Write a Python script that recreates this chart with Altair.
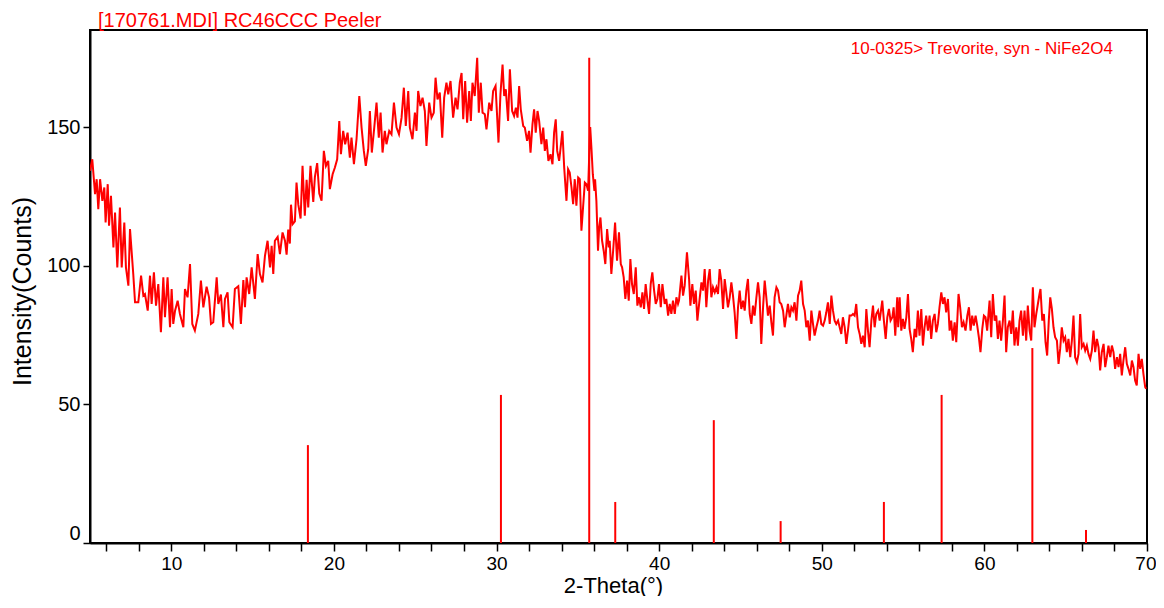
import altair as alt
import pandas as pd

two_theta = [
    5.00, 5.14, 5.31, 5.41, 5.51, 5.62, 5.76, 5.88, 5.96, 6.09, 6.17, 6.29, 6.44, 6.54, 6.68, 6.84, 6.95,
    7.11, 7.21, 7.36, 7.46, 7.66, 7.77, 7.97, 8.14, 8.28, 8.38, 8.55, 8.69, 8.79, 8.93, 9.06, 9.20, 9.36,
    9.51, 9.61, 9.77, 9.92, 10.02, 10.12, 10.23, 10.39, 10.53, 10.74, 10.84, 11.00, 11.15, 11.29, 11.45,
    11.66, 11.82, 11.97, 12.17, 12.32, 12.44, 12.58, 12.79, 12.89, 13.05, 13.20, 13.30, 13.46, 13.57,
    13.77, 13.91, 14.12, 14.28, 14.43, 14.53, 14.63, 14.79, 14.94, 15.14, 15.31, 15.45, 15.61, 15.76,
    15.92, 16.07, 16.17, 16.27, 16.37, 16.54,
    16.68, 16.84, 16.99, 17.09, 17.19, 17.29, 17.36, 17.46, 17.60, 17.70, 17.81, 17.95, 18.07, 18.21,
    18.32, 18.42, 18.56, 18.73, 18.83, 18.97, 19.10, 19.24, 19.38, 19.51, 19.65, 19.75, 19.92, 20.06,
    20.20, 20.33, 20.43, 20.57, 20.69, 20.84, 20.98, 21.08, 21.23, 21.39, 21.56, 21.70, 21.84, 21.96,
    22.11, 22.21, 22.33, 22.48, 22.62, 22.76, 22.87, 22.99, 23.13, 23.23, 23.40, 23.54, 23.69, 23.85,
    24.00, 24.16, 24.30, 24.42, 24.57, 24.67, 24.83, 24.98, 25.08, 25.18, 25.32, 25.45, 25.59, 25.69,
    25.86, 26.00, 26.14, 26.25, 26.37, 26.51, 26.66, 26.78, 26.92, 27.03, 27.17, 27.33, 27.48, 27.60,
    27.74, 27.85, 27.95, 28.07, 28.19, 28.32, 28.42, 28.52, 28.66, 28.81, 28.91, 29.03, 29.14, 29.28,
    29.38, 29.55, 29.69, 29.79, 29.94, 30.04, 30.12, 30.24, 30.37, 30.47, 30.57, 30.71, 30.82, 30.96,
    31.08, 31.19, 31.29, 31.39, 31.49, 31.64, 31.74, 31.88, 32.00, 32.09, 32.21, 32.31, 32.41, 32.52,
    32.62, 32.76, 32.87, 32.97, 33.07, 33.19, 33.32, 33.44, 33.54, 33.64, 33.73, 33.85, 33.93, 34.05,
    34.16, 34.30, 34.40, 34.50, 34.61, 34.71, 34.81, 34.91, 35.02, 35.12, 35.22, 35.32, 35.43, 35.53,
    35.63, 35.70, 35.76, 35.84, 35.92,
    36.02, 36.06, 36.14, 36.24, 36.31, 36.39, 36.49, 36.59, 36.69, 36.80, 36.90, 36.96, 37.06, 37.17,
    37.29, 37.41, 37.53, 37.64, 37.72, 37.82, 37.92, 38.03, 38.13, 38.23, 38.33, 38.44, 38.56, 38.66,
    38.76, 38.87, 38.97, 39.07, 39.17, 39.28, 39.38, 39.48, 39.58, 39.69, 39.79, 39.89, 39.99, 40.10,
    40.20, 40.34, 40.44, 40.55, 40.65, 40.75, 40.85, 40.96, 41.06, 41.16,
    41.22, 41.37, 41.47, 41.57, 41.71, 41.84, 41.92, 42.04, 42.14, 42.25, 42.35, 42.49, 42.60, 42.70,
    42.80, 42.90, 43.01, 43.11, 43.21, 43.31, 43.42, 43.52, 43.62, 43.72, 43.82, 43.93, 44.03, 44.13,
    44.23, 44.34, 44.44, 44.54, 44.64, 44.75, 44.85, 44.95, 45.05, 45.16, 45.26, 45.36, 45.46, 45.57,
    45.67, 45.77, 45.87, 45.98, 46.08, 46.18, 46.28, 46.39, 46.49, 46.59, 46.69, 46.80, 46.90, 47.00,
    47.10, 47.21, 47.31, 47.41, 47.51, 47.62, 47.72, 47.82, 47.92, 48.03, 48.13, 48.23, 48.33, 48.44,
    48.54, 48.64, 48.74, 48.85, 48.95, 49.05, 49.15, 49.26, 49.36, 49.46, 49.56, 49.67, 49.77, 49.87,
    49.97, 50.08, 50.18, 50.28, 50.38, 50.49, 50.59, 50.69, 50.79, 50.89, 51.00, 51.10, 51.20, 51.30,
    51.41, 51.51, 51.61, 51.71, 51.82, 51.92, 52.02, 52.12, 52.23, 52.33, 52.43, 52.53, 52.64, 52.74,
    52.84, 52.94, 53.05, 53.15, 53.25, 53.35, 53.46, 53.56, 53.72, 53.82, 53.93, 54.03, 54.13, 54.23,
    54.34, 54.42, 54.52, 54.64,
    54.70, 54.79, 54.89, 54.99, 55.09, 55.20, 55.30, 55.40, 55.50, 55.60, 55.71, 55.81, 55.91, 56.01,
    56.12, 56.22, 56.32, 56.42, 56.53, 56.63, 56.73, 56.83, 56.94, 57.04, 57.14, 57.24, 57.35, 57.45,
    57.55, 57.65, 57.76, 57.86, 57.96, 58.06, 58.17, 58.27, 58.41, 58.51, 58.62, 58.72, 58.84, 58.95,
    59.05, 59.15, 59.25, 59.35, 59.46, 59.56, 59.66, 59.76, 59.87, 59.97, 60.07, 60.17, 60.32, 60.42,
    60.52, 60.63, 60.73, 60.83, 60.93, 61.03, 61.14, 61.24, 61.34, 61.44, 61.55, 61.65, 61.75, 61.85,
    61.96, 62.06, 62.16, 62.26, 62.37, 62.47, 62.57, 62.67, 62.78, 62.88, 62.98, 63.08, 63.19, 63.29,
    63.39, 63.45, 63.56, 63.66, 63.76, 63.86, 63.96, 64.05, 64.15, 64.25, 64.35, 64.46, 64.56, 64.66,
    64.76, 64.87, 64.97, 65.07, 65.17, 65.28, 65.38, 65.48, 65.58, 65.69, 65.79, 65.89, 65.99, 66.10,
    66.20, 66.30, 66.40, 66.51, 66.61, 66.71, 66.81, 66.92, 67.02, 67.12, 67.22, 67.33, 67.43, 67.53,
    67.63, 67.74, 67.84, 67.94, 68.04, 68.15, 68.25, 68.35, 68.45, 68.55, 68.66, 68.76, 68.86, 68.97,
    69.07, 69.17, 69.27, 69.37, 69.48, 69.58, 69.68, 69.78, 69.89, 69.95,
]

counts = [
    134.2, 138.4, 125.8, 131.2, 120.4, 131.2, 123.4, 128.2, 115.6, 129.4, 114.4, 125.2, 106.6, 119.2, 99.4, 121.0, 99.4,
    115.6, 99.4, 92.8, 113.2, 97.0, 86.8, 86.8, 96.4, 89.2, 89.8, 83.8, 96.4, 86.2, 97.6, 85.6, 93.4, 76.0,
    95.8, 81.4, 95.8, 77.8, 91.6, 79.0, 83.8, 87.4, 82.6, 77.8, 91.6, 88.6, 100.6, 79.0, 76.6,
    82.6, 94.6, 85.0, 92.4, 88.6, 79.0, 79.6, 95.8, 86.2, 89.6, 77.8, 88.0, 90.4, 79.6,
    77.8, 91.6, 92.6, 79.0, 94.8, 85.0, 95.8, 89.8, 99.4, 88.0, 104.2, 97.0, 94.0, 103.6,
    109.0, 99.4, 107.2, 97.0, 109.0, 110.4,
    104.2, 112.0, 109.0, 104.0, 113.0, 108.0, 122.0, 115.0, 116.0, 130.0, 122.0, 117.0, 136.0, 118.0,
    131.0, 121.0, 136.0, 123.0, 132.0, 137.0, 126.0, 123.4, 141.4, 136.0, 137.8, 127.6, 133.0, 135.4,
    138.4, 152.2, 140.2, 148.6, 143.8, 148.0, 139.0, 146.2, 136.6, 145.6, 161.2, 149.8, 141.4, 136.0,
    142.0, 155.8, 140.8, 149.8, 158.8, 146.2, 155.2, 140.8, 148.6, 143.8, 148.6, 147.4, 158.8, 149.8,
    147.4, 153.4, 164.2, 150.4, 163.0, 149.8, 145.6, 155.2, 148.6, 163.0, 157.6, 160.6, 155.8, 143.2,
    158.8, 153.4, 155.2, 167.8, 160.0, 162.4, 146.2, 160.6, 166.0, 161.8, 166.6, 153.4, 160.6, 156.4,
    166.0, 169.5, 152.8, 166.6, 151.6, 163.0, 152.2, 166.0, 161.2, 175.0, 155.2, 166.0, 155.2, 154.6,
    149.2, 158.8, 155.8, 163.0, 164.8, 153.4, 144.4, 161.8, 172.5, 161.2, 163.6, 152.2, 170.8, 155.8,
    154.0, 157.0, 153.4, 164.8, 156.4, 150.4, 149.8, 145.0, 148.6, 140.8, 151.0, 156.4, 148.0, 155.8,
    152.2, 143.8, 149.8, 141.4, 145.6, 137.8, 140.2, 136.6, 148.0, 152.8, 141.4, 137.8, 142.0, 148.6,
    135.4, 123.4, 134.8, 133.6, 128.2, 122.2, 131.2, 121.6, 131.8, 131.2, 112.6, 121.0, 130.0, 129.4,
    127.0, 140.0, 150.0, 142.0, 133.0,
    127.0, 131.2, 123.4, 105.4, 113.8, 117.4, 109.0, 105.4, 100.6, 113.2, 106.6, 109.0, 97.0, 105.4,
    115.6, 101.8, 112.0, 100.6, 99.4, 95.8, 88.0, 94.6, 87.4, 102.4, 93.4, 89.8, 99.4, 85.6,
    88.6, 85.0, 90.4, 84.4, 93.4, 87.4, 82.6, 93.4, 97.6, 91.0, 86.2, 88.0, 93.4, 85.0,
    93.4, 86.2, 88.0, 82.0, 86.2, 82.6, 87.4, 82.6, 88.6, 86.2,
    87.4, 96.4, 89.2, 92.8, 104.8, 95.2, 85.6, 93.4, 86.2, 91.0, 80.2, 88.0, 94.0, 91.0,
    98.8, 85.0, 94.6, 98.8, 88.6, 92.2, 90.4, 92.2, 89.8, 98.8, 94.6, 84.4, 95.2, 90.4,
    85.0, 88.6, 94.0, 89.2, 83.2, 73.6, 85.0, 91.0, 84.4, 87.4, 83.8, 91.0, 95.2, 82.6,
    79.0, 85.6, 82.0, 88.6, 94.0, 88.6, 71.8, 85.0, 94.6, 88.6, 82.0, 85.6, 79.6, 74.8,
    88.6, 92.2, 91.0, 86.8, 86.2, 83.8, 77.8, 82.0, 86.2, 81.4, 85.0, 83.8, 86.8, 80.2,
    89.2, 91.0, 94.6, 86.2, 83.8, 77.8, 80.2, 73.0, 83.8, 79.0, 74.8, 77.8, 80.2, 83.8,
    79.0, 78.4, 80.2, 83.2, 86.8, 79.0, 89.2, 83.8, 80.2, 79.0, 80.2, 77.8, 75.4, 81.4,
    77.8, 71.8, 76.6, 82.0, 82.0, 82.6, 82.0, 86.2, 77.8, 75.4, 71.8, 74.8, 70.6, 84.4,
    76.6, 70.6, 80.2, 85.6, 77.8, 82.6, 83.8, 80.2, 87.4, 80.2, 73.6, 81.4, 84.4, 80.2,
    81.4, 85.0, 74.8, 88.6,
    77.8, 88.6, 76.6, 80.8, 77.2, 81.4, 89.8, 77.2, 73.6, 68.8, 77.2, 74.2, 83.8, 74.8,
    84.4, 71.2, 77.8, 82.0, 76.6, 82.0, 73.6, 80.2, 82.6, 76.0, 79.0, 85.0, 90.4, 86.2,
    88.6, 83.2, 88.0, 76.6, 80.2, 73.0, 79.6, 72.4, 89.8, 85.0, 77.8, 79.6, 76.6, 82.0,
    85.0, 76.6, 82.0, 78.4, 82.0, 78.4, 74.2, 68.8, 77.2, 82.0, 81.4, 76.6, 87.4, 74.2,
    89.8, 80.2, 82.0, 73.6, 80.2, 73.0, 80.2, 89.2, 68.8, 77.8, 80.2, 75.4, 83.8, 71.2,
    77.8, 71.2, 80.2, 83.8, 74.8, 83.8, 73.0, 85.6, 76.6, 73.0, 92.2, 77.8, 82.6, 86.2,
    89.8, 91.6, 80.2, 82.6, 72.4, 67.6, 80.2, 88.6, 84.4, 77.8, 74.2, 73.0, 64.6, 70.0,
    77.8, 73.0, 74.2, 68.8, 73.6, 67.0, 73.0, 82.0, 67.0, 65.2, 68.2, 82.6, 70.6, 71.8,
    69.4, 71.2, 68.2, 66.4, 69.4, 76.6, 68.8, 73.6, 70.6, 62.2, 68.8, 71.8, 63.4, 67.0,
    71.2, 67.0, 71.2, 68.8, 62.8, 67.0, 63.4, 68.2, 60.4, 65.8, 70.6, 64.6, 62.8, 60.4,
    65.8, 63.4, 58.6, 56.8, 68.2, 62.8, 66.4, 61.0, 56.2, 55.6,
]

# ---- reference pattern 10-0325 Trevorite, syn - NiFe2O4 (stick lines) ----
ref_two_theta = [18.40, 30.27, 35.70, 37.30, 43.36, 47.47, 53.82, 57.37, 62.95, 66.25]
ref_height = [35.3, 53.4, 175.0, 14.8, 44.3, 7.9, 14.8, 53.4, 70.3, 4.7]

x_tick_values = [6, 8, 10, 12, 14, 16, 18, 20, 22, 24, 26, 28, 30, 32, 34, 36, 38, 40,
                 42, 44, 46, 48, 50, 52, 54, 56, 58, 60, 62, 64, 66, 68, 70]
x_label_values = [10, 20, 30, 40, 50, 60, 70]
y_tick_values = [0, 50, 100, 150]

title_text = "[170761.MDI] RC46CCC Peeler"
legend_text = "10-0325> Trevorite, syn - NiFe2O4"

RED = "#ff0000"
FONT = "Liberation Sans"
W, H = 1057, 513

scan = pd.DataFrame({"two_theta": two_theta, "counts": counts})
ref = pd.DataFrame({"two_theta": ref_two_theta, "height": ref_height})
legend_df = pd.DataFrame({"label": [legend_text]})

x_scale = alt.Scale(domain=[5, 70], nice=False, zero=False)
y_scale = alt.Scale(domain=[0, 185], nice=False)

label_test = " || ".join(f"datum.value == {v}" for v in x_label_values)

x_axis = alt.Axis(
    values=x_tick_values,
    labelExpr=f"({label_test}) ? datum.label : ''",
    labelFlush=True,
    labelFlushOffset=9,
    labelOverlap=False,
    grid=False,
    tickSize=8,
    tickWidth=1.5,
    tickColor="black",
    domainColor="black",
    domainWidth=2,
    labelPadding=3,
    labelFont=FONT,
    labelFontSize=19,
    labelColor="black",
    title="2-Theta(°)",
    titleFont=FONT,
    titleFontSize=22,
    titleFontWeight="normal",
    titleColor="black",
    titleX=523,
    titleY=49,
    titleAlign="center",
    titleBaseline="alphabetic",
)

y_axis = alt.Axis(
    values=y_tick_values,
    labelFlush=True,
    labelOverlap=False,
    grid=False,
    tickSize=7,
    tickWidth=1.5,
    tickColor="black",
    domainColor="black",
    domainWidth=2,
    labelPadding=3,
    labelFont=FONT,
    labelFontSize=20,
    labelColor="black",
    title="Intensity(Counts)",
    titleFont=FONT,
    titleFontSize=25,
    titleFontWeight="normal",
    titleColor="black",
    titleAngle=-90,
    titleX=-60,
    titleY=261,
    titleAlign="center",
    titleBaseline="alphabetic",
)

line = alt.Chart(scan).mark_line(color=RED, strokeWidth=2, clip=True).encode(
    x=alt.X("two_theta:Q", scale=x_scale, axis=x_axis),
    y=alt.Y("counts:Q", scale=y_scale, axis=y_axis),
)

sticks = alt.Chart(ref).mark_rule(color=RED, strokeWidth=2).encode(
    x=alt.X("two_theta:Q", scale=x_scale, axis=x_axis),
    y=alt.Y("height:Q", scale=y_scale, axis=y_axis),
    y2=alt.datum(0),
)

legend = alt.Chart(legend_df).mark_text(
    color=RED, font=FONT, fontSize=17, align="right", baseline="alphabetic"
).encode(
    text="label:N",
    x=alt.value(1023),
    y=alt.value(24),
)

chart = (
    alt.layer(line, sticks, legend)
    .properties(
        width=W,
        height=H,
        title=alt.TitleParams(
            title_text,
            anchor="start",
            frame="group",
            color=RED,
            font=FONT,
            fontSize=20,
            fontWeight="normal",
            dx=8,
            offset=-1,
        ),
        autosize=alt.AutoSizeParams(type="none"),
        padding={"left": 82, "top": 22, "right": 9, "bottom": 53},
        background="white",
    )
    .configure_view(stroke="black", strokeWidth=2)
    .configure_axis(labelOverlap=False)
)

chart.save("out.html", embed_options={"renderer": "svg", "actions": False})
